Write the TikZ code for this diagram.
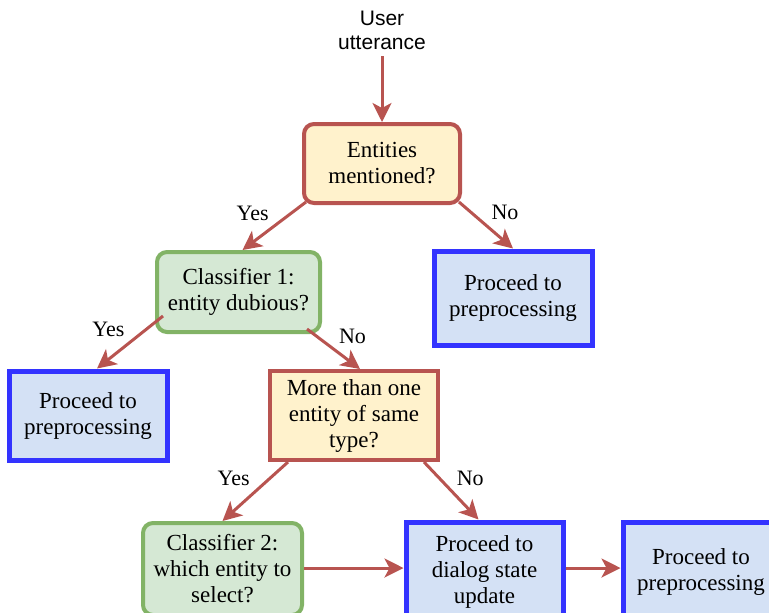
\documentclass[tikz,border=0pt]{standalone}
\usepackage{fontspec}
\setmainfont{Liberation Serif}
\newfontfamily\utterfont{Liberation Sans}
\usetikzlibrary{arrows.meta,positioning}

\definecolor{decred}{HTML}{B85450}
\definecolor{decfill}{HTML}{FFF2CC}
\definecolor{clsgreen}{HTML}{82B366}
\definecolor{clsfill}{HTML}{D5E8D4}
\definecolor{outblue}{HTML}{3333FF}
\definecolor{outfill}{HTML}{D4E1F5}

\tikzset{
  box/.style={draw, line width=2pt, align=center, inner sep=0pt,
    font=\fontsize{11.5}{13}\selectfont},
  decision/.style={box, draw=decred, fill=decfill},
  classifier/.style={box, draw=clsgreen, fill=clsfill, rounded corners=5pt},
  outcome/.style={box, draw=outblue, fill=outfill, line width=2.5pt},
  arr/.style={draw=decred, line width=1.5pt,
    -{Stealth[length=9.5pt,width=9.5pt,inset=2.5pt]}},
  lbl/.style={font=\fontsize{11}{12}\selectfont, inner sep=2pt}
}

\begin{document}
\begin{tikzpicture}[x=0.5pt,y=-0.5pt]
			\useasboundingbox (0,0) rectangle (769,612);
			% boxes
			\node [align=center, font=\utterfont\fontsize{10.5}{12}\selectfont] (utter) at (382,30) {User\\utterance};
			\node [decision, rounded corners=5pt, minimum width=78pt, minimum height=39.5pt] (ent) at (382,163.5) {Entities\\mentioned?};
			\node [classifier, minimum width=81.5pt, minimum height=40pt] (cl1) at (238.5,292) {Classifier 1:\\entity dubious?};
			\node [outcome, minimum width=79pt, minimum height=47pt] (pr1) at (513,298) {Proceed to\\preprocessing};
			\node [outcome, minimum width=79pt, minimum height=44.5pt] (pr2) at (88,415.5) {Proceed to\\preprocessing};
			\node [decision, minimum width=84pt, minimum height=44.5pt] (more) at (354,415.5) {More than one\\entity of same\\type?};
			\node [classifier, minimum width=79.5pt, minimum height=46pt] (cl2) at (222.5,569) {Classifier 2:\\which entity to\\select?};
			\node [outcome, minimum width=78.5pt, minimum height=50pt] (dia) at (484.5,572) {Proceed to\\dialog state\\update};
			\node [outcome, minimum width=78pt, minimum height=50pt] (pr3) at (701,572) {Proceed to\\preprocessing};
			% connectors
			\draw [arr] (utter.south) -- (ent.north);
			\draw [arr] ([shift={(2pt,1.5pt)}]ent.south west) -- node [lbl, above left] {Yes} ([xshift=2pt]cl1.north);
			\draw [arr] ([shift={(-1.5pt,1.5pt)}]ent.south east) -- node [lbl, above right] {No} (pr1.north);
			\draw [arr] ([shift={(4pt,-12pt)}]cl1.west) -- node [lbl, above left] {Yes} ([xshift=4.5pt]pr2.north);
			\draw [arr] ([shift={(-7.5pt,2.5pt)}]cl1.south east) -- node [lbl, above right] {No} ([xshift=3pt]more.north);
			\draw [arr] ([xshift=10pt]more.south west) -- node [lbl, above left] {Yes} (cl2.north);
			\draw [arr] ([xshift=-8pt]more.south east) -- node [lbl, above right] {No} ([xshift=-3pt]dia.north);
			\draw [arr] ([yshift=0.5pt]cl2.east) -- ([yshift=0.5pt]cl2.east -| dia.west);
			\draw [arr] ([yshift=2pt]dia.east) -- ([yshift=2pt]pr3.west);
		\end{tikzpicture}
\end{document}
